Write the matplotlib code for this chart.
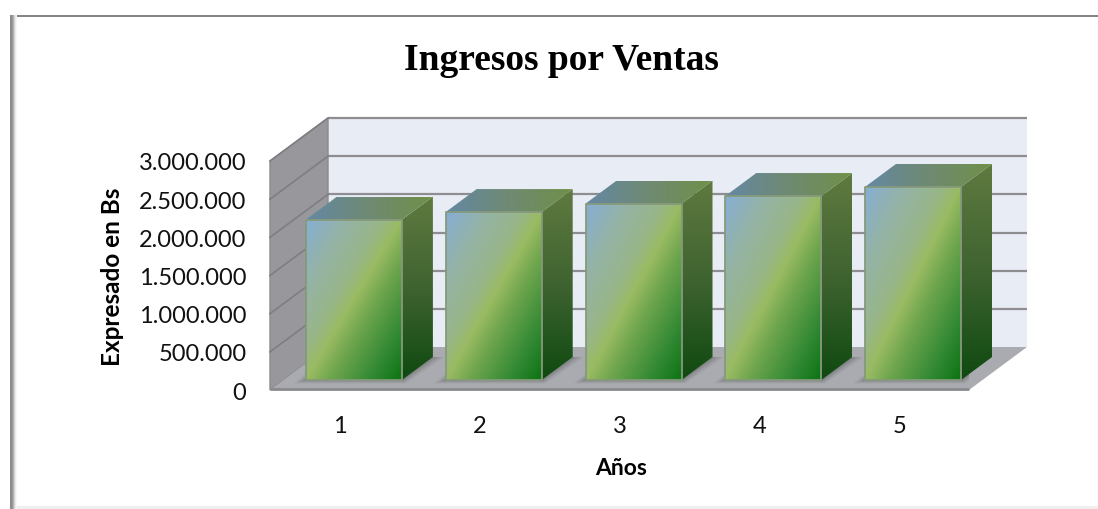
"""Ingresos por Ventas: fake 3D column chart drawn on a flat matplotlib axes."""

import matplotlib
matplotlib.use("Agg")
import matplotlib.pyplot as plt
import numpy as np
from matplotlib.colors import LinearSegmentedColormap
from matplotlib.patches import Polygon, Rectangle
from matplotlib.transforms import Affine2D, IdentityTransform

YEARS = [1, 2, 3, 4, 5]
INGRESOS = [2100000, 2200000, 2310000, 2410000, 2530000]
Y_TICKS = [0, 500000, 1000000, 1500000, 2000000, 2500000, 3000000]

W, H = 1098, 510
FRONT_L, FRONT_R, FRONT_B, FRONT_T = 270, 969, 391, 162
WALL_DX, WALL_DY = 58, 43  # depth of the chart box, px
BAR_DX, BAR_DY = 14, 10  # where the bar front sits inside the box
BAR_DEPTH_X, BAR_DEPTH_Y = 31, 23
BAR_WIDTH = 96 / 139.8

FRONT = LinearSegmentedColormap.from_list(
    "front",
    [(0, "#86aed4"), (0.2, "#94b3a8"), (0.4, "#98b688"), (0.5, "#9abb62"),
     (0.62, "#6fa64e"), (0.85, "#2f8732"), (1, "#0c7412")],
)
SIDE = LinearSegmentedColormap.from_list("side", ["#5f7a40", "#3f6330", "#0f4a10"])
TOP = LinearSegmentedColormap.from_list("top", ["#6488a4", "#6f8a72", "#6f9048"])


def fmt(v):
    return f"{v:,}".replace(",", ".")


def gradient_image(ax, bbox, data, cmap, clip):
    x0, x1, y0, y1 = bbox
    im = ax.imshow(data, cmap=cmap, vmin=0, vmax=1, extent=(x0, x1, y0, y1), origin="upper",
                   aspect="auto", transform=IdentityTransform(), zorder=4, interpolation="bilinear")
    im.set_clip_box(None)
    im.set_clip_path(clip)
    im.set_clip_box(fig.bbox)


fig = plt.figure(figsize=(W / 100, H / 100), dpi=100)
ax = fig.add_axes([FRONT_L / W, 1 - FRONT_B / H, (FRONT_R - FRONT_L) / W, (FRONT_B - FRONT_T) / H])
ax.set_xlim(0.5, 5.5)
ax.set_ylim(0, 3000000)
ax.set_autoscale_on(False)
ax.patch.set_visible(False)
for s in ax.spines.values():
    s.set_visible(False)

px = IdentityTransform()


def P(x, y):
    # reference pixel (y from the top) to display coords
    return (x, H - y)


# chart frame
fig.add_artist(Rectangle((10 / W, 1 - 17.5 / H), 1088 / W, 2 / H, transform=fig.transFigure, color="#858585", lw=0))
for i, c in enumerate(["#8a8a8a", "#8f8f8f", "#999999", "#b4b4b4", "#d4d4d4", "#ebebeb", "#f7f7f7"]):
    fig.add_artist(Rectangle(((10 + i) / W, 0), 1 / W, 1 - 16 / H, transform=fig.transFigure, color=c, lw=0))
fig.add_artist(Rectangle((17 / W, 0), 1081 / W, 3 / H, transform=fig.transFigure, color="#efefef", lw=0))

# box: wall, floor, side wall
back = Polygon([P(FRONT_L + WALL_DX, FRONT_T - WALL_DY), P(FRONT_R + WALL_DX, FRONT_T - WALL_DY),
                P(FRONT_R + WALL_DX, FRONT_B - WALL_DY), P(FRONT_L + WALL_DX, FRONT_B - WALL_DY)],
               transform=px, fc="#e8ecf5", ec="none", zorder=1, clip_on=False)
ax.add_patch(back)
side = Polygon([P(FRONT_L, FRONT_T), P(FRONT_L + WALL_DX, FRONT_T - WALL_DY),
                P(FRONT_L + WALL_DX, FRONT_B - WALL_DY), P(FRONT_L, FRONT_B)],
               transform=px, fc="#98989c", ec="#8a8a8e", lw=1, zorder=1, clip_on=False)
ax.add_patch(side)
floor = Polygon([P(FRONT_L, FRONT_B), P(FRONT_R, FRONT_B), P(FRONT_R + WALL_DX, FRONT_B - WALL_DY),
                 P(FRONT_L + WALL_DX, FRONT_B - WALL_DY)], transform=px, fc="#a9abb0", ec="none", zorder=1.5,
                clip_on=False)
ax.add_patch(floor)
ax.plot([FRONT_L, FRONT_R], [H - FRONT_B + 1, H - FRONT_B + 1], color="#8a8a8e", lw=2, transform=px,
        clip_on=False, zorder=2, solid_capstyle="butt")

# gridlines on the back wall and side wall
wall_tr = ax.transData + Affine2D().translate(WALL_DX, WALL_DY)
for v in Y_TICKS[1:]:
    ax.plot([0.5, 5.5], [v, v], color="#8d8d92", lw=1.6, transform=wall_tr, clip_on=False, zorder=1.2,
            solid_capstyle="butt")
    (x0, y0) = ax.transData.transform((0.5, v))
    ax.plot([x0, x0 + WALL_DX], [y0, y0 + WALL_DY], color="#7e7e82", lw=1.2, transform=px, clip_on=False, zorder=1.3)

# bars
bar_tr = ax.transData + Affine2D().translate(BAR_DX, BAR_DY)
uu, vv = np.meshgrid(np.linspace(0, 1, 120), np.linspace(0, 1, 120))
front_data = (uu + vv) / 2
side_data = vv
top_data = uu

for year, val in zip(YEARS, INGRESOS):
    (xl, yb) = bar_tr.transform((year - BAR_WIDTH / 2, 0))
    (xr, yt) = bar_tr.transform((year + BAR_WIDTH / 2, val))

    # soft shadow on the floor
    for grow, a in ((12, 0.05), (9, 0.07), (6, 0.09), (3, 0.12)):
        sh = Polygon([(xl - grow, yb - grow * 0.3), (xr + grow * 0.3, yb - grow * 0.3),
                      (xr + BAR_DEPTH_X + grow, yb + BAR_DEPTH_Y), (xl + BAR_DEPTH_X - grow, yb + BAR_DEPTH_Y)],
                     transform=px, fc="#303030", ec="none", alpha=a, zorder=2)
        ax.add_patch(sh)
        sh.set_clip_path(floor)

    ax.bar(year, val, BAR_WIDTH, transform=bar_tr, color="none", edgecolor="#86997c", lw=1.3,
           joinstyle="round", zorder=5, clip_on=False)
    clip_front = Rectangle((xl, yb), xr - xl, yt - yb, transform=px)
    gradient_image(ax, (xl, xr, yb, yt), front_data, FRONT, clip_front)

    clip_side = Polygon([(xr, yb), (xr + BAR_DEPTH_X, yb + BAR_DEPTH_Y), (xr + BAR_DEPTH_X, yt + BAR_DEPTH_Y),
                         (xr, yt)], transform=px)
    gradient_image(ax, (xr, xr + BAR_DEPTH_X, yb, yt + BAR_DEPTH_Y), side_data, SIDE, clip_side)

    clip_top = Polygon([(xl, yt), (xr, yt), (xr + BAR_DEPTH_X, yt + BAR_DEPTH_Y), (xl + BAR_DEPTH_X, yt + BAR_DEPTH_Y)],
                       transform=px)
    gradient_image(ax, (xl, xr + BAR_DEPTH_X, yt, yt + BAR_DEPTH_Y), top_data, TOP, clip_top)

ax.set_xticks(YEARS, [str(y) for y in YEARS])
ax.set_yticks(Y_TICKS, [fmt(v) for v in Y_TICKS])
ax.tick_params(length=0, labelsize=17, pad=18, axis="x", labelcolor="#111111")
ax.tick_params(length=0, labelsize=17, pad=17, axis="y", labelcolor="#111111")
for lab in ax.get_xticklabels() + ax.get_yticklabels():
    lab.set_family("Lato")

fig.text(561 / W, 1 - 61 / H, "Ingresos por Ventas", family="Liberation Serif", weight="bold", fontsize=27,
         ha="center", va="center", color="black")
fig.text(113 / W, 1 - 277 / H, "Expresado en Bs", family="Lato", weight="bold", fontsize=17.5, rotation=90,
         ha="center", va="center", color="black")
fig.text(621 / W, 1 - 469 / H, "Años", family="Lato", weight="bold", fontsize=16.5, ha="center", va="center",
         color="black")

fig.savefig("out.png", dpi=100)
